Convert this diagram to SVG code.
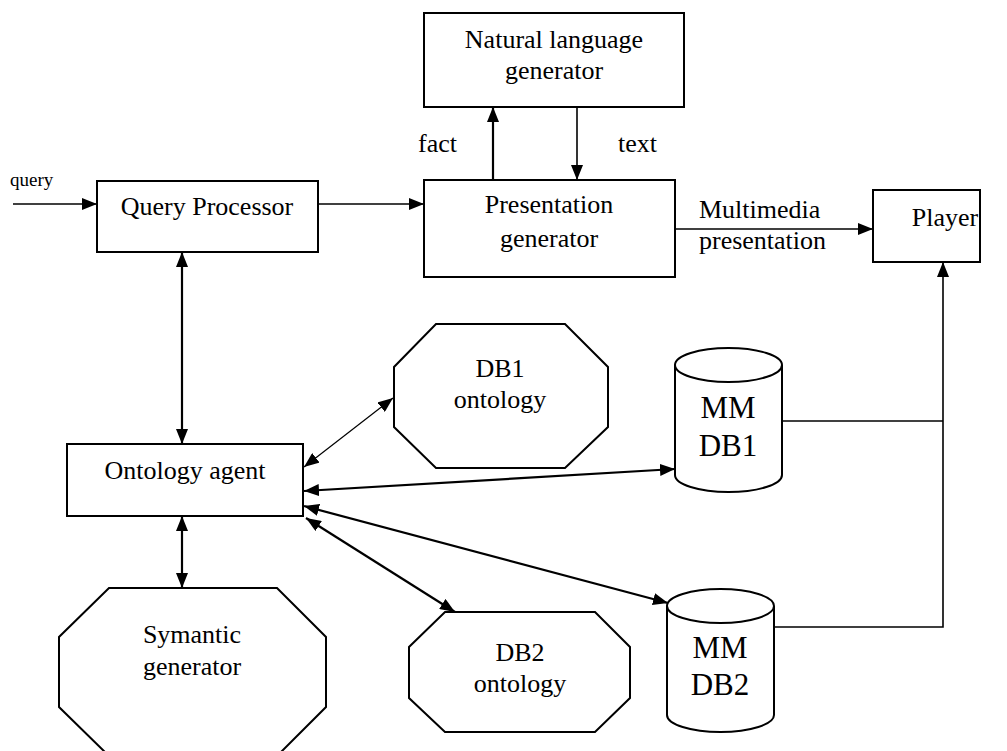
<svg xmlns="http://www.w3.org/2000/svg" width="1007" height="751" viewBox="0 0 1007 751">
<style>
.box{fill:#fff;stroke:#000;stroke-width:2}
.t{font-family:"Liberation Serif","Times New Roman",serif;font-size:26px;fill:#000}
.c{text-anchor:middle}
.big{font-size:31px}
.sm{font-size:19px}
.ln{fill:none;stroke:#000;stroke-width:1.6}
.thk{stroke-width:2.2}
.thn{stroke-width:1.2}
.a2{marker-start:url(#ah);marker-end:url(#ah)}
.a1{marker-end:url(#ah)}
</style>
<defs>
<marker id="ah" markerWidth="15" markerHeight="12" refX="15" refY="6" orient="auto-start-reverse" markerUnits="userSpaceOnUse"><path d="M0,0 L15,6 L0,12 z" fill="#000"/></marker>
</defs>
<rect width="1007" height="751" fill="#fff"/>
<g id="connectors">
<line class="ln a1" x1="13" y1="204" x2="97" y2="204"/>
<line class="ln a1" x1="318" y1="204" x2="424" y2="204"/>
<line class="ln thk a1" x1="493" y1="180" x2="493" y2="107"/>
<line class="ln a1" x1="577" y1="107" x2="577" y2="180"/>
<line class="ln a1" x1="675" y1="229" x2="873" y2="229"/>
<polyline class="ln" points="782,421 943,421"/>
<polyline class="ln a1" points="774,627 943,627 943,262"/>
<line class="ln thk a2" x1="182" y1="252" x2="182" y2="444"/>
<line class="ln thk a2" x1="182" y1="516" x2="182" y2="588"/>
<line class="ln thn a2" x1="304" y1="467" x2="393" y2="398"/>
<line class="ln thk a2" x1="304" y1="491" x2="675" y2="469"/>
<line class="ln thk a2" x1="304" y1="506" x2="668" y2="603"/>
<line class="ln thk a2" x1="306" y1="518" x2="455" y2="612"/>
</g>
<g id="query-label"><text class="t sm" x="10" y="186">query</text></g>
<g id="query-processor">
<rect class="box" x="97" y="181" width="221" height="71"/>
<text class="t c" x="207" y="215">Query Processor</text>
</g>
<g id="nl-generator">
<rect class="box" x="424" y="13" width="260" height="94"/>
<text class="t c" x="554" y="48">Natural language</text>
<text class="t c" x="554" y="79">generator</text>
</g>
<g id="fact-label"><text class="t" x="418" y="152">fact</text></g>
<g id="text-label"><text class="t" x="618" y="152">text</text></g>
<g id="presentation-generator">
<rect class="box" x="424" y="180" width="251" height="97"/>
<text class="t c" x="549" y="213">Presentation</text>
<text class="t c" x="549" y="247">generator</text>
</g>
<g id="mm-label">
<text class="t" x="699" y="218">Multimedia</text>
<text class="t" x="699" y="249">presentation</text>
</g>
<g id="player">
<rect class="box" x="873" y="190" width="107" height="72"/>
<text class="t c" x="945" y="226">Player</text>
</g>
<g id="ontology-agent">
<rect class="box" x="67" y="444" width="236" height="72"/>
<text class="t c" x="185" y="479">Ontology agent</text>
</g>
<g id="db1-ontology">
<polygon class="box" points="436,324 565,324 608,367 608,427 565,468 436,468 394,427 394,367"/>
<text class="t c" x="500" y="377">DB1</text>
<text class="t c" x="500" y="408">ontology</text>
</g>
<g id="mm-db1">
<path class="box" d="M675,365 L675,475 A53.5,17 0 0 0 782,475 L782,365 A53.5,17 0 0 0 675,365 A53.5,17 0 0 0 782,365"/>
<text class="t c big" x="728" y="418">MM</text>
<text class="t c big" x="728" y="456">DB1</text>
</g>
<g id="symantic-generator">
<polygon class="box" points="109,588 277,588 326,637 326,707 277,756 109,756 59,707 59,637"/>
<text class="t c" x="192" y="643">Symantic</text>
<text class="t c" x="192" y="675">generator</text>
</g>
<g id="db2-ontology">
<polygon class="box" points="445,612 595,612 630,647 630,698 595,732 445,732 409,698 409,647"/>
<text class="t c" x="520" y="661">DB2</text>
<text class="t c" x="520" y="692">ontology</text>
</g>
<g id="mm-db2">
<path class="box" d="M667,606 L667,715 A53.5,17 0 0 0 774,715 L774,606 A53.5,17 0 0 0 667,606 A53.5,17 0 0 0 774,606"/>
<text class="t c big" x="720" y="658">MM</text>
<text class="t c big" x="720" y="695">DB2</text>
</g>
</svg>
